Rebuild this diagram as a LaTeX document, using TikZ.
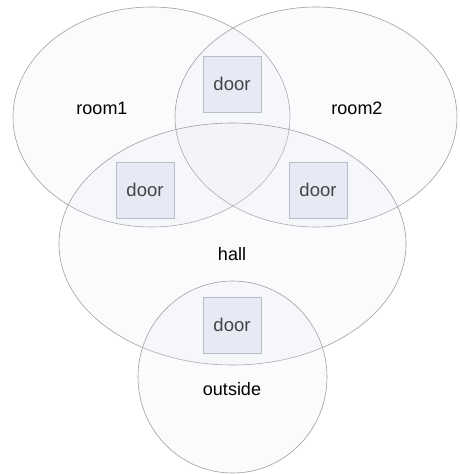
\documentclass[tikz,border=0pt]{standalone}
\usepackage{fontspec}
\setmainfont{Liberation Sans}
\usetikzlibrary{shapes.geometric}
\definecolor{areafill}{RGB}{228,232,242}
\definecolor{areadraw}{RGB}{160,160,160}
\definecolor{doorfill}{RGB}{229,234,245}
\definecolor{doordraw}{RGB}{185,189,198}
\definecolor{doortext}{RGB}{68,68,68}
\tikzset{
  area/.style={draw=areadraw, line width=0.6pt, fill=areafill, fill opacity=0.16, text opacity=1},
  doorbox/.style={draw=doordraw, line width=0.7pt, fill=doorfill, minimum width=58pt, minimum height=56pt, inner sep=0pt, text=doortext, font=\fontsize{18.5}{20}\selectfont},
  lbl/.style={font=\fontsize{18}{20}\selectfont, text=black, inner sep=0pt}
}
\begin{document}
\begin{tikzpicture}[x=1pt,y=-1pt]
\useasboundingbox (0,0) rectangle (459,474);
\fill[white] (0,0) rectangle (459,474);
\draw[area] (151.5,117) ellipse [x radius=138.5, y radius=110];
\draw[area] (316,117) ellipse [x radius=141, y radius=110];
\draw[area] (232.5,244) ellipse [x radius=173.5, y radius=121];
\draw[area] (232.5,377) ellipse [x radius=94.5, y radius=96];
\node[lbl] (room1) at (102,108) {room1};
\node[lbl] (room2) at (357,108) {room2};
\node[lbl] (hall) at (232,254) {hall};
\node[lbl] (outside) at (232,389) {outside};
\node[doorbox] (d1) at (232,84) {door};
\node[doorbox] (d2) at (145,190) {door};
\node[doorbox] (d3) at (318,190) {door};
\node[doorbox] (d4) at (232,325) {door};
\end{tikzpicture}
\end{document}
